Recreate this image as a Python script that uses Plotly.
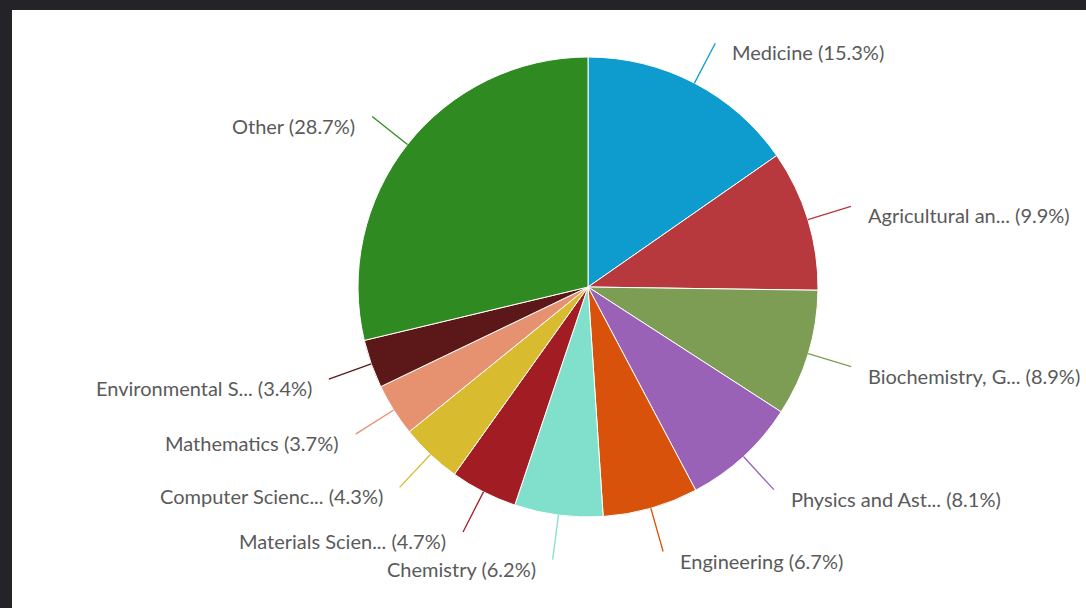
import math
import plotly.graph_objects as go

# ---- data ----
labels = ["Medicine", "Agricultural an...", "Biochemistry, G...", "Physics and Ast...",
          "Engineering", "Chemistry", "Materials Scien...", "Computer Scienc...",
          "Mathematics", "Environmental S...", "Other"]
values = [15.3, 9.9, 8.9, 8.1, 6.7, 6.2, 4.7, 4.3, 3.7, 3.4, 28.7]
colors = ["#0e9ccf", "#b7393d", "#7d9d55", "#9a62b6", "#d9520b", "#80e0cc",
          "#a21c24", "#d8bb2f", "#e69270", "#5c1818", "#2f8a22"]

# ---- layout constants (pixels) ----
W, H = 1086, 608
CX, CY, R = 588, 287, 230
LEAD = 45      # connector length beyond the rim
GAP = 15       # gap between connector end and label
TEXT_DY = 9

def to_paper(px, py):
    return px / W, 1 - py / H

fig = go.Figure(go.Pie(
    labels=labels, values=values, sort=False, direction="clockwise", rotation=0,
    marker=dict(colors=colors, line=dict(color="white", width=1)),
    textinfo="none", hoverinfo="label+percent", showlegend=False,
    domain=dict(x=[(CX - R) / W, (CX + R) / W], y=[1 - (CY + R) / H, 1 - (CY - R) / H]),
))

shapes = [dict(type="rect", xref="paper", yref="paper", x0=12 / W, x1=1, y0=0, y1=1 - 10 / H,
               fillcolor="white", line=dict(width=0), layer="below")]
annotations = []
total = sum(values)
cum = 0.0
for lab, v, c in zip(labels, values, colors):
    a = (cum + v / 2) / total * 2 * math.pi
    cum += v
    s, co = math.sin(a), math.cos(a)
    ex, ey = CX + R * s, CY - R * co
    tx, ty = CX + (R + LEAD) * s, CY - (R + LEAD) * co
    x0, y0 = to_paper(ex, ey)
    x1, y1 = to_paper(tx, ty)
    shapes.append(dict(type="line", xref="paper", yref="paper", x0=x0, y0=y0, x1=x1, y1=y1,
                       line=dict(color=c, width=1.3)))
    right = s >= 0
    lx, ly = to_paper(tx + (GAP if right else -GAP), ty + TEXT_DY)
    annotations.append(dict(xref="paper", yref="paper", x=lx, y=ly, showarrow=False,
                            text=f"{lab} ({v}%)", xanchor="left" if right else "right",
                            yanchor="middle", font=dict(family="Lato, sans-serif", size=20, color="#5a5a5a")))

fig.update_layout(width=W, height=H, margin=dict(l=0, r=0, t=0, b=0),
                  paper_bgcolor="#232328", plot_bgcolor="#232328",
                  shapes=shapes, annotations=annotations)
fig.write_html("out.html", config={"displayModeBar": False},
               post_script="document.body.style.margin='0';document.body.style.background='#232328';")
